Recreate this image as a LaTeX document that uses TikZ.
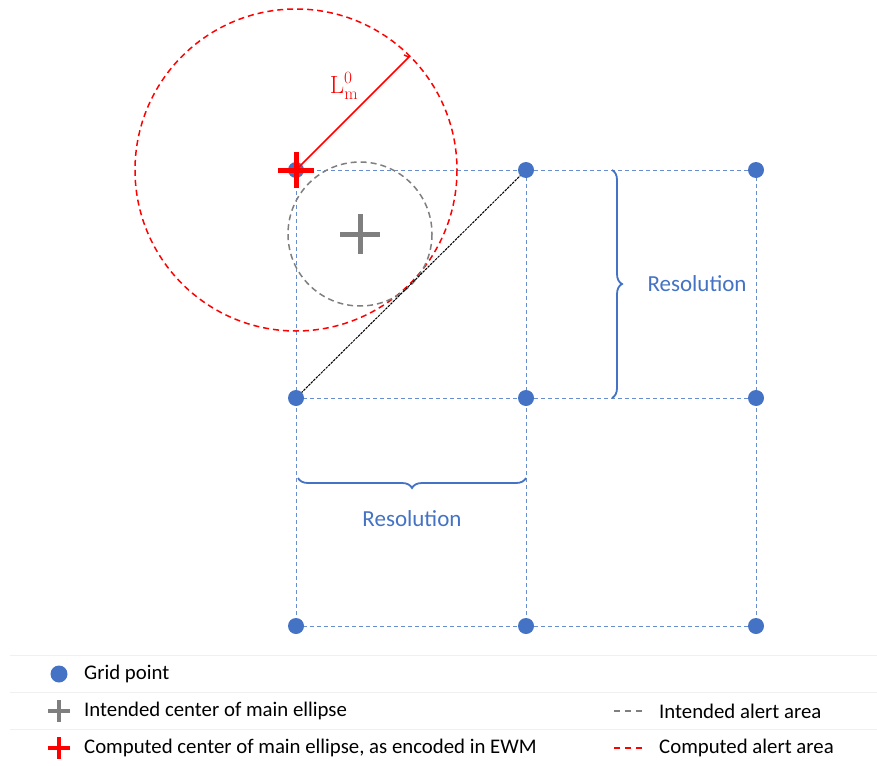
\documentclass[tikz,border=0pt]{standalone}
\usepackage[no-math]{fontspec}
\setmainfont{Carlito}
\usetikzlibrary{decorations.pathreplacing}
\definecolor{gblue}{HTML}{4472C4}
\definecolor{ggray}{HTML}{7F7F7F}
\definecolor{gred}{HTML}{FF0000}
\begin{document}
\begin{tikzpicture}[x=1pt,y=-1pt,
  gridline/.style={gblue!80,dash pattern=on 4pt off 3pt,line width=1pt},
  gdot/.style={circle,fill=gblue,inner sep=0pt,minimum size=16pt},
  lbl/.style={font=\fontsize{23}{26}\selectfont,text=gblue},
  legtxt/.style={font=\fontsize{20.8}{24}\selectfont,anchor=west,inner sep=0pt},
  sep/.style={black!6,line width=0.8pt}]
\useasboundingbox (0,0) rectangle (877,765);
% grid points
\foreach \i/\x in {1/296,2/526,3/756}{
  \foreach \j/\y in {1/170,2/398,3/626}{
    \coordinate (p\i\j) at (\x,\y);
  }}
% grid lines
\foreach \j in {1,2,3}{\draw[gridline] (p1\j) -- (p3\j);}
\foreach \i in {1,2,3}{\draw[gridline] (p\i1) -- (p\i3);}
% circles
\draw[gred,dash pattern=on 6pt off 4pt,line width=1.5pt] (p11) circle[radius=161];
\coordinate (ic) at (360,234);
\draw[ggray,dash pattern=on 6pt off 4pt,line width=1.5pt] (ic) circle[radius=72];
% diagonal
\draw[black,dash pattern=on 2.5pt off 1pt,line width=1pt] (p12) -- (p21);
% dots
\foreach \i in {1,2,3}{\foreach \j in {1,2,3}{\node[gdot] (d\i\j) at (p\i\j) {};}}
% radius line
\coordinate (re) at (409,57);
\draw[gred,line width=1.5pt] (p11) -- (re) -- ++(-5,-2);
\node[text=gred,font=\fontsize{27}{30}\selectfont,inner sep=0pt] (lm) at (344,86) {$\mathrm{L}_{\mathrm{m}}^{0}$};
% crosses
\draw[gred,line width=5pt] (278,170) -- (314,170) (296,152) -- (296,188);
\draw[ggray,line width=5pt] (340,234) -- (380,234) (360,214) -- (360,254);
% braces
\draw[gblue,line width=1.8pt,decorate,decoration={brace,amplitude=10pt}] (612,170) -- (612,398);
\node[lbl,anchor=west] (r1) at (644,284) {Resolution};
\draw[gblue,line width=1.8pt,decorate,decoration={brace,amplitude=10pt,mirror}] (298,478) -- (526,478);
\node[lbl] (r2) at (412,519) {Resolution};
% legend
\draw[sep] (10,655) -- (877,655);
\draw[sep] (10,692) -- (877,692);
\draw[sep] (10,729) -- (877,729);
\node[gdot,minimum size=17pt] (l1) at (59,674) {};
\node[legtxt] (t1) at (84,674) {Grid point};
\draw[ggray,line width=4pt] (48,711) -- (70,711) (59,700) -- (59,722);
\node[legtxt] (t2) at (84,711) {Intended center of main ellipse};
\draw[gred,line width=4pt] (48,748) -- (70,748) (59,737) -- (59,759);
\node[legtxt] (t3) at (84,748) {Computed center of main ellipse, as encoded in EWM};
\draw[ggray,dash pattern=on 6pt off 5pt,line width=1.5pt] (614,711) -- (646,711);
\node[legtxt] (t4) at (659,711) {Intended alert area};
\draw[gred,dash pattern=on 6pt off 5pt,line width=1.5pt] (614,748) -- (646,748);
\node[legtxt] (t5) at (659,748) {Computed alert area};
\end{tikzpicture}
\end{document}
